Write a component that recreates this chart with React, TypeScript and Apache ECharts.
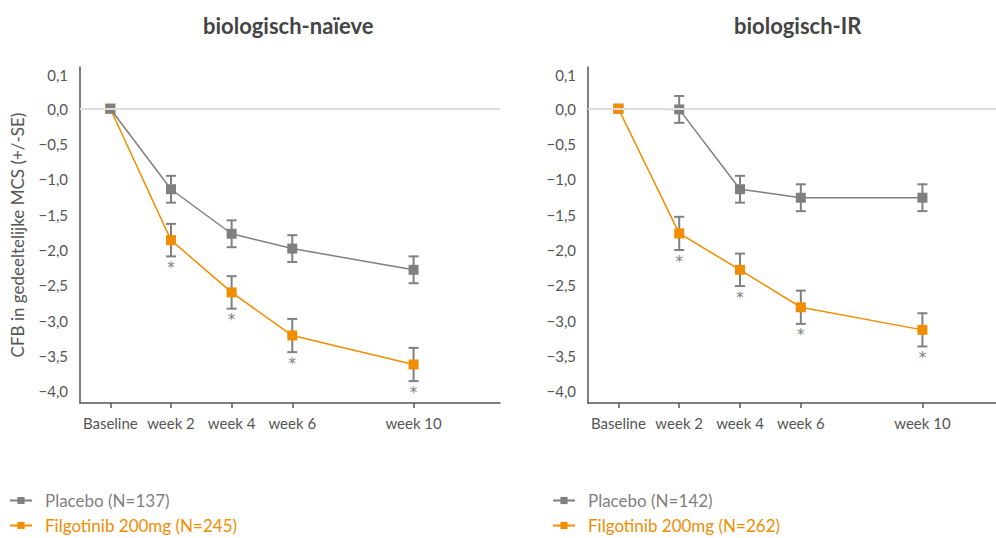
import React, { useEffect, useRef } from "react";
import * as echarts from "echarts";

const weeks = [0, 2, 4, 6, 10];
const weekLabels = ["Baseline", "week 2", "week 4", "week 6", "week 10"];
const yTickValues = [-4, -3.5, -3, -2.5, -2, -1.5, -1, -0.5, 0, 0.47];
const yTickLabels = ["−4,0", "−3,5", "−3,0", "−2,5", "−2,0", "−1,5", "−1,0", "−0,5", "0,0", "0,1"];

const panelTitles = ["biologisch-naïeve", "biologisch-IR"];
const yAxisName = "CFB in gedeeltelijke MCS (+/-SE)";

const naivePlaceboName = "Placebo (N=137)";
const naiveFilgoName = "Filgotinib 200mg (N=245)";
const irPlaceboName = "Placebo (N=142)";
const irFilgoName = "Filgotinib 200mg (N=262)";

const naivePlacebo = [0, -1.14, -1.77, -1.98, -2.28];
const naivePlaceboSE = [0, 0.19, 0.19, 0.19, 0.19];
const naiveFilgo = [0, -1.86, -2.6, -3.21, -3.62];
const naiveFilgoSE = [0, 0.23, 0.23, 0.235, 0.235];
const naiveSig = [false, true, true, true, true];

const irPlacebo = [0, -0.01, -1.14, -1.26, -1.26];
const irPlaceboSE = [0, 0.19, 0.19, 0.19, 0.19];
const irFilgo = [0, -1.765, -2.28, -2.81, -3.13];
const irFilgoSE = [0, 0.235, 0.23, 0.235, 0.235];
const irSig = [false, true, true, true, true];

const GRAY = "#7f7f7f";
const ORANGE = "#f18d00";
const TEXT = "#555555";
const FONT = "Lato, 'Noto Sans', sans-serif";

function errorSeries(idx: number, vals: number[], se: number[], sig: boolean[] | null) {
  const data = weeks
    .map((w, i) => [w, vals[i] - se[i], vals[i] + se[i], sig && sig[i] ? 1 : 0, se[i]])
    .filter((d) => d[4] > 0);
  return {
    type: "custom",
    xAxisIndex: idx,
    yAxisIndex: idx,
    z: 1,
    silent: true,
    data,
    renderItem: (params: any, api: any) => {
      const x = api.value(0);
      const lo = api.coord([x, api.value(1)]);
      const hi = api.coord([x, api.value(2)]);
      const half = 5;
      const st = { stroke: "#808080", lineWidth: 2 };
      const children: any[] = [
        { type: "line", shape: { x1: lo[0], y1: lo[1], x2: hi[0], y2: hi[1] }, style: st },
        { type: "line", shape: { x1: lo[0] - half, y1: lo[1], x2: lo[0] + half, y2: lo[1] }, style: st },
        { type: "line", shape: { x1: hi[0] - half, y1: hi[1], x2: hi[0] + half, y2: hi[1] }, style: st },
      ];
      if (api.value(3) === 1) {
        children.push({
          type: "text",
          style: {
            text: "*",
            x: lo[0],
            y: lo[1] + 4,
            textAlign: "center",
            textVerticalAlign: "top",
            fill: "#808080",
            fontSize: 15,
            fontFamily: "'DejaVu Sans', sans-serif",
          },
        });
      }
      return { type: "group", children };
    },
  };
}

function lineSeries(idx: number, name: string, vals: number[], color: string, z: number) {
  return {
    type: "line",
    name,
    xAxisIndex: idx,
    yAxisIndex: idx,
    data: weeks.map((w, i) => [w, vals[i]]),
    symbol: "rect",
    symbolSize: 10,
    showAllSymbol: true,
    z,
    itemStyle: { color },
    lineStyle: { color, width: 1.5 },
    emphasis: { disabled: true },
  };
}

function zeroLine(idx: number) {
  return {
    type: "line",
    xAxisIndex: idx,
    yAxisIndex: idx,
    data: [],
    z: 0,
    silent: true,
    markLine: {
      silent: true,
      symbol: "none",
      label: { show: false },
      lineStyle: { color: "#dddddd", width: 2, type: "solid" },
      data: [{ yAxis: 0 }],
    },
  };
}

function legendItem(left: number, top: number, name: string, color: string) {
  return {
    orient: "vertical",
    left,
    top,
    padding: 0,
    itemWidth: 22,
    itemHeight: 9,
    selectedMode: false,
    textStyle: { fontSize: 17, fontFamily: FONT, color, padding: [0, 0, 0, 8] },
    data: [{ name, textStyle: { color } }],
  };
}

export default function App() {
  const ref = useRef<HTMLDivElement>(null);
  useEffect(() => {
    if (!ref.current) return;
    const chart = echarts.init(ref.current, null, { renderer: "svg" });
    const grids = [
      { left: 80, top: 67, width: 420, height: 336 },
      { left: 588, top: 67, width: 408, height: 336 },
    ];
    const xMax = [12.85, 12.42];
    const xAxes = [0, 1].map((i) => ({
      type: "value",
      gridIndex: i,
      min: -1,
      max: xMax[i],
      splitLine: { show: false },
      axisLine: { show: true, onZero: false, lineStyle: { color: "#555", width: 1.5 } },
      axisTick: { show: true, customValues: weeks, length: 5, lineStyle: { color: "#555", width: 1.5 } },
      axisLabel: {
        customValues: weeks,
        margin: 12,
        color: TEXT,
        fontSize: 15,
        fontFamily: FONT,
        formatter: (v: number) => {
          const k = weeks.indexOf(v);
          return k >= 0 ? weekLabels[k] : "";
        },
      },
    }));
    const yAxes = [0, 1].map((i) => ({
      type: "value",
      gridIndex: i,
      min: -4.165,
      max: 0.59,
      name: i === 0 ? yAxisName : "",
      nameLocation: "middle",
      nameGap: 54,
      nameTextStyle: { color: TEXT, fontSize: 17, fontFamily: FONT },
      splitLine: { show: false },
      axisLine: { show: true, onZero: false, lineStyle: { color: "#555", width: 1.5 } },
      axisTick: { show: false },
      axisLabel: {
        customValues: yTickValues,
        margin: 12,
        color: TEXT,
        fontSize: 15,
        fontFamily: FONT,
        formatter: (v: number) => {
          const k = yTickValues.findIndex((t) => Math.abs(t - v) < 1e-6);
          return k >= 0 ? yTickLabels[k] : "";
        },
      },
    }));
    chart.setOption({
      animation: false,
      backgroundColor: "#ffffff",
      textStyle: { fontFamily: FONT },
      graphic: [
        {
          type: "text",
          left: 203,
          top: 14,
          style: { text: panelTitles[0], fontSize: 22, fontWeight: "bold", fill: "#444", fontFamily: FONT },
        },
        {
          type: "text",
          left: 734,
          top: 14,
          style: { text: panelTitles[1], fontSize: 22, fontWeight: "bold", fill: "#444", fontFamily: FONT },
        },
      ],
      grid: grids,
      xAxis: xAxes,
      yAxis: yAxes,
      legend: [
        legendItem(9, 492, naivePlaceboName, GRAY),
        legendItem(9, 517, naiveFilgoName, ORANGE),
        legendItem(552, 492, irPlaceboName, GRAY),
        legendItem(552, 517, irFilgoName, ORANGE),
      ],
      series: [
        zeroLine(0),
        zeroLine(1),
        errorSeries(0, naivePlacebo, naivePlaceboSE, null),
        errorSeries(0, naiveFilgo, naiveFilgoSE, naiveSig),
        errorSeries(1, irPlacebo, irPlaceboSE, null),
        errorSeries(1, irFilgo, irFilgoSE, irSig),
        lineSeries(0, naiveFilgoName, naiveFilgo, ORANGE, 3),
        lineSeries(0, naivePlaceboName, naivePlacebo, GRAY, 4),
        lineSeries(1, irPlaceboName, irPlacebo, GRAY, 3),
        lineSeries(1, irFilgoName, irFilgo, ORANGE, 4),
      ],
    });
    return () => chart.dispose();
  }, []);
  return (
    <div
      ref={ref}
      style={{ position: "fixed", left: 0, top: 0, width: 996, height: 538 }}
    />
  );
}
